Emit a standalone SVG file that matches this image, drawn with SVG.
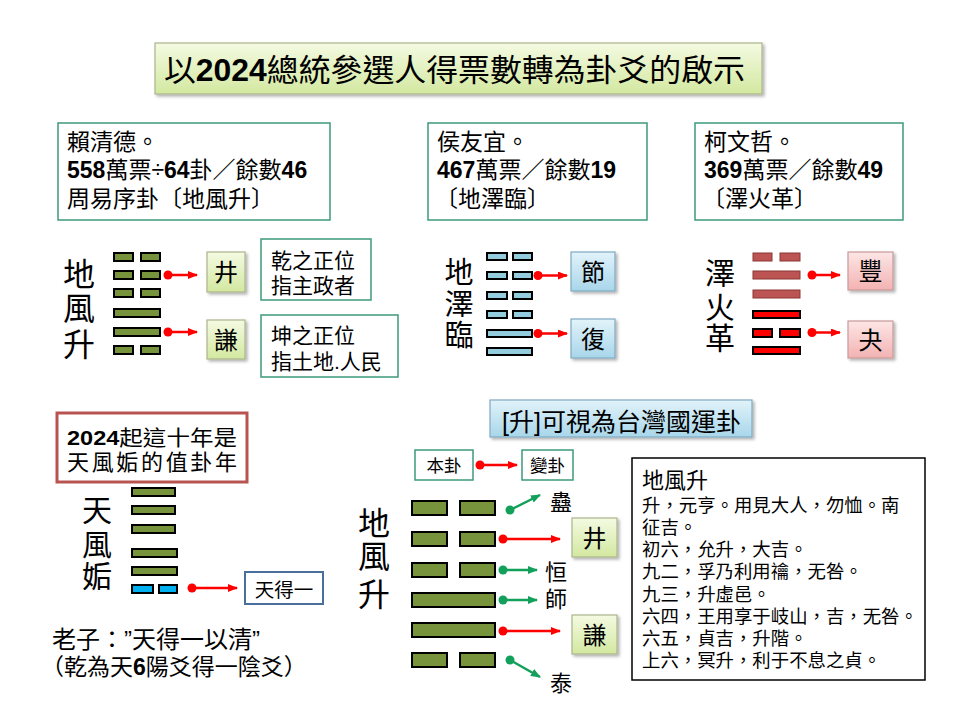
<svg xmlns="http://www.w3.org/2000/svg" width="960" height="720" viewBox="0 0 960 720">
<defs>
<style>
text{font-family:"Liberation Sans","Noto Sans CJK TC",sans-serif;fill:#000}
.b{font-weight:bold}
.tb{fill:#fff;stroke:#3d9a7a;stroke-width:1.5}
.ol{fill:#77933c;stroke:#000;stroke-width:2}
.bl{fill:#93cddd;stroke:#000;stroke-width:2}
.br{fill:#bb5452;stroke:#8a3735;stroke-width:1}
.rd{fill:#ff0000;stroke:#000;stroke-width:2}
.cy{fill:#00b0f0;stroke:#000;stroke-width:2}
.lime{fill:url(#gLime);stroke:#aab58c;stroke-width:1.2}
.sky{fill:url(#gSky);stroke:#7fa9c4;stroke-width:1.2}
.pink{fill:url(#gPink);stroke:#c99a9a;stroke-width:1.2}
.big{font-size:32px;text-anchor:middle}
.ar{stroke:#ff0000;stroke-width:2.5;fill:none;marker-start:url(#dotR);marker-end:url(#ahR)}
.ag{stroke:#12a05a;stroke-width:2.5;fill:none;marker-start:url(#dotG);marker-end:url(#ahG)}
</style>
<linearGradient id="gLime" x1="0" y1="0" x2="0" y2="1"><stop offset="0" stop-color="#f4fae2"/><stop offset="1" stop-color="#d3e8a0"/></linearGradient>
<linearGradient id="gSky" x1="0" y1="0" x2="0" y2="1"><stop offset="0" stop-color="#e2f3fa"/><stop offset="1" stop-color="#a8d6ea"/></linearGradient>
<linearGradient id="gPink" x1="0" y1="0" x2="0" y2="1"><stop offset="0" stop-color="#fde6e6"/><stop offset="1" stop-color="#f3b2b2"/></linearGradient>
<filter id="sh" x="-10%" y="-10%" width="130%" height="140%"><feDropShadow dx="2" dy="2" stdDeviation="1.5" flood-color="#000" flood-opacity="0.3"/></filter>
<marker id="ahR" markerWidth="10" markerHeight="8" refX="9" refY="4" orient="auto" markerUnits="userSpaceOnUse"><path d="M0,0 L10,4 L0,8 z" fill="#ff0000"/></marker>
<marker id="dotR" markerWidth="10" markerHeight="10" refX="5" refY="5" markerUnits="userSpaceOnUse"><circle cx="5" cy="5" r="4.5" fill="#ff0000"/></marker>
<marker id="ahG" markerWidth="10" markerHeight="8" refX="9" refY="4" orient="auto" markerUnits="userSpaceOnUse"><path d="M0,0 L10,4 L0,8 z" fill="#12a05a"/></marker>
<marker id="dotG" markerWidth="10" markerHeight="10" refX="5" refY="5" markerUnits="userSpaceOnUse"><circle cx="5" cy="5" r="4.5" fill="#12a05a"/></marker>
</defs>
<rect width="960" height="720" fill="#fff"/>

<g id="title">
<rect x="155" y="43" width="607" height="51" class="lime" filter="url(#sh)"/>
<text x="164" y="81" font-size="31" textLength="581" lengthAdjust="spacingAndGlyphs">以<tspan class="b">2024</tspan>總統參選人得票數轉為卦爻的啟示</text>
</g>

<g id="box-lai">
<rect x="58" y="123" width="272" height="97" class="tb"/>
<text x="67" y="150" font-size="23">賴清德。</text>
<text x="67" y="178" font-size="23"><tspan class="b">558</tspan>萬票÷<tspan class="b">64</tspan>卦／餘數<tspan class="b">46</tspan></text>
<text x="67" y="207" font-size="23">周易序卦〔地風升〕</text>
</g>
<g id="box-hou">
<rect x="428" y="123" width="219" height="97" class="tb"/>
<text x="437" y="150" font-size="23">侯友宜。</text>
<text x="437" y="178" font-size="23"><tspan class="b">467</tspan>萬票／餘數<tspan class="b">19</tspan></text>
<text x="435" y="207" font-size="23">〔地澤臨〕</text>
</g>
<g id="box-ko">
<rect x="695" y="123" width="208" height="97" class="tb"/>
<text x="704" y="150" font-size="23">柯文哲。</text>
<text x="704" y="178" font-size="23"><tspan class="b">369</tspan>萬票／餘數<tspan class="b">49</tspan></text>
<text x="702" y="207" font-size="23">〔澤火革〕</text>
</g>

<g id="hex-sheng-top">
<text x="79" y="286" class="big">地</text>
<text x="79" y="320" class="big">風</text>
<text x="79" y="356" class="big">升</text>
<rect x="114" y="253" width="19" height="8" class="ol"/><rect x="141" y="253" width="19" height="8" class="ol"/>
<rect x="114" y="271" width="19" height="8" class="ol"/><rect x="141" y="271" width="19" height="8" class="ol"/>
<rect x="114" y="289" width="19" height="8" class="ol"/><rect x="141" y="289" width="19" height="8" class="ol"/>
<rect x="114" y="309" width="46" height="8" class="ol"/>
<rect x="114" y="328" width="46" height="8" class="ol"/>
<rect x="114" y="346" width="19" height="8" class="ol"/><rect x="141" y="346" width="19" height="8" class="ol"/>
</g>
<g id="node-jing-top">
<rect x="207" y="252" width="38" height="40" class="lime" filter="url(#sh)"/>
<text x="226" y="281" font-size="24" text-anchor="middle">井</text>
</g>
<g id="node-qian-top">
<rect x="207" y="320" width="38" height="39" class="lime" filter="url(#sh)"/>
<text x="226" y="349" font-size="24" text-anchor="middle">謙</text>
</g>
<g id="note-qian">
<rect x="261" y="239" width="110" height="61" class="tb"/>
<text x="271" y="268" font-size="21">乾之正位</text>
<text x="271" y="293" font-size="21">指主政者</text>
</g>
<g id="note-kun">
<rect x="261" y="315" width="137" height="62" class="tb"/>
<text x="271" y="343" font-size="21">坤之正位</text>
<text x="271" y="369" font-size="21">指土地.人民</text>
</g>

<g id="hex-lin">
<text x="459" y="283" font-size="29" text-anchor="middle">地</text>
<text x="459" y="315" font-size="29" text-anchor="middle">澤</text>
<text x="459" y="346" font-size="29" text-anchor="middle">臨</text>
<rect x="487" y="253" width="20" height="7" class="bl"/><rect x="513" y="253" width="19" height="7" class="bl"/>
<rect x="487" y="272" width="20" height="7" class="bl"/><rect x="513" y="272" width="19" height="7" class="bl"/>
<rect x="487" y="292" width="20" height="7" class="bl"/><rect x="513" y="292" width="19" height="7" class="bl"/>
<rect x="487" y="311" width="20" height="7" class="bl"/><rect x="513" y="311" width="19" height="7" class="bl"/>
<rect x="487" y="330" width="45" height="7" class="bl"/>
<rect x="487" y="348" width="45" height="7" class="bl"/>
</g>
<g id="node-jie">
<rect x="571" y="252" width="44" height="39" class="sky" filter="url(#sh)"/>
<text x="593" y="281" font-size="24" text-anchor="middle">節</text>
</g>
<g id="node-fu">
<rect x="571" y="319" width="44" height="39" class="sky" filter="url(#sh)"/>
<text x="593" y="348" font-size="24" text-anchor="middle">復</text>
</g>

<g id="hex-ge">
<text x="720" y="284" font-size="30" text-anchor="middle">澤</text>
<text x="720" y="318" font-size="30" text-anchor="middle">火</text>
<text x="720" y="349" font-size="30" text-anchor="middle">革</text>
<rect x="753" y="253" width="19" height="8" class="br"/><rect x="780" y="253" width="20" height="8" class="br"/>
<rect x="753" y="271" width="47" height="8" class="br"/>
<rect x="753" y="290" width="47" height="8" class="br"/>
<rect x="753" y="311" width="47" height="7" class="rd"/>
<rect x="753" y="329" width="19" height="8" class="rd"/><rect x="780" y="329" width="20" height="8" class="rd"/>
<rect x="753" y="347" width="47" height="7" class="rd"/>
</g>
<g id="node-feng">
<rect x="848" y="252" width="45" height="38" class="pink" filter="url(#sh)"/>
<text x="870.5" y="280" font-size="24" text-anchor="middle">豐</text>
</g>
<g id="node-guai">
<rect x="848" y="321" width="45" height="37" class="pink" filter="url(#sh)"/>
<text x="870.5" y="349" font-size="24" text-anchor="middle">夬</text>
</g>

<g id="box-2024">
<rect x="57" y="413" width="190" height="69" fill="#fff" stroke="#b85450" stroke-width="3"/>
<text x="67" y="445" font-size="21" textLength="170" lengthAdjust="spacingAndGlyphs"><tspan class="b">2024</tspan>起這十年是</text>
<text x="67" y="470" font-size="22" textLength="170" lengthAdjust="spacing">天風姤的值卦年</text>
</g>
<g id="hex-gou">
<text x="97" y="521" font-size="30" text-anchor="middle">天</text>
<text x="97" y="555" font-size="30" text-anchor="middle">風</text>
<text x="97" y="587" font-size="30" text-anchor="middle">姤</text>
<rect x="132" y="488" width="43" height="8" class="ol"/>
<rect x="132" y="506" width="43" height="8" class="ol"/>
<rect x="132" y="525" width="43" height="8" class="ol"/>
<rect x="132" y="549" width="45" height="8" class="ol"/>
<rect x="132" y="567" width="45" height="8" class="ol"/>
<rect x="132" y="585" width="21" height="8" class="cy"/><rect x="159" y="585" width="18" height="8" class="cy"/>
</g>
<g id="node-tiandeyi">
<rect x="245" y="572" width="78" height="32" fill="#fff" stroke="#4a6f9c" stroke-width="2"/>
<text x="284" y="597" font-size="19.5" text-anchor="middle">天得一</text>
</g>
<g id="laozi">
<text x="52" y="648" font-size="24">老子：”天得一以清”</text>
<text x="41" y="675" font-size="23">（乾為天<tspan class="b">6</tspan>陽爻得一陰爻）</text>
</g>

<g id="banner">
<rect x="490" y="400" width="262" height="37" class="sky" filter="url(#sh)"/>
<text x="502" y="431" font-size="25">[升]可視為台灣國運卦</text>
</g>
<g id="node-bengua">
<rect x="415" y="450" width="58" height="30" class="tb"/>
<text x="444" y="472" font-size="17.5" text-anchor="middle">本卦</text>
</g>
<g id="node-biangua">
<rect x="522" y="450" width="51" height="30" class="tb"/>
<text x="547.5" y="472" font-size="17.5" text-anchor="middle">變卦</text>
</g>
<g id="hex-sheng-bottom">
<text x="374" y="535" class="big">地</text>
<text x="374" y="568" class="big">風</text>
<text x="374" y="606" class="big">升</text>
<rect x="412" y="501" width="35" height="14" class="ol"/><rect x="460" y="501" width="35" height="14" class="ol"/>
<rect x="412" y="532" width="35" height="14" class="ol"/><rect x="460" y="532" width="35" height="14" class="ol"/>
<rect x="412" y="563" width="35" height="14" class="ol"/><rect x="460" y="563" width="35" height="14" class="ol"/>
<rect x="412" y="593" width="83" height="14" class="ol"/>
<rect x="412" y="623" width="83" height="14" class="ol"/>
<rect x="412" y="653" width="35" height="14" class="ol"/><rect x="460" y="653" width="35" height="14" class="ol"/>
</g>
<g id="label-gu"><text x="561" y="510" font-size="22" text-anchor="middle">蠱</text></g>
<g id="node-jing-bottom">
<rect x="572" y="518" width="45" height="39" class="lime" filter="url(#sh)"/>
<text x="594.5" y="547" font-size="24" text-anchor="middle">井</text>
</g>
<g id="label-heng"><text x="556" y="580" font-size="22" text-anchor="middle">恒</text></g>
<g id="label-shi"><text x="556" y="607" font-size="22" text-anchor="middle">師</text></g>
<g id="node-qian-bottom">
<rect x="572" y="615" width="45" height="39" class="lime" filter="url(#sh)"/>
<text x="594.5" y="644" font-size="24" text-anchor="middle">謙</text>
</g>
<g id="label-tai"><text x="561" y="691" font-size="22" text-anchor="middle">泰</text></g>

<g id="text-sheng">
<rect x="632" y="458" width="293" height="222" fill="#fff" stroke="#000" stroke-width="1.5"/>
<text x="642" y="488" font-size="22">地風升</text>
<g font-size="18.4">
<text x="642" y="512">升，元亨。用見大人，勿恤。南</text>
<text x="642" y="534">征吉。</text>
<text x="642" y="556">初六，允升，大吉。</text>
<text x="642" y="578">九二，孚乃利用禴，无咎。</text>
<text x="642" y="601">九三，升虛邑。</text>
<text x="642" y="623">六四，王用享于岐山，吉，无咎。</text>
<text x="642" y="645">六五，貞吉，升階。</text>
<text x="642" y="667">上六，冥升，利于不息之貞。</text>
</g>
</g>

<g id="connectors">
<line x1="168" y1="275" x2="197" y2="275" class="ar"/>
<line x1="168" y1="332" x2="197" y2="332" class="ar"/>
<line x1="538" y1="275.5" x2="567" y2="275.5" class="ar"/>
<line x1="538" y1="333.5" x2="567" y2="333.5" class="ar"/>
<line x1="812" y1="275" x2="840" y2="275" class="ar"/>
<line x1="812" y1="332.5" x2="840" y2="332.5" class="ar"/>
<line x1="192" y1="588" x2="237" y2="588" class="ar"/>
<line x1="480" y1="465" x2="517" y2="465" class="ar"/>
<line x1="510" y1="510" x2="540" y2="495" class="ag"/>
<line x1="503" y1="539" x2="560" y2="539" class="ar"/>
<line x1="503" y1="570" x2="537" y2="570" class="ag"/>
<line x1="503" y1="600" x2="537" y2="600" class="ag"/>
<line x1="503" y1="631" x2="560" y2="631" class="ar"/>
<line x1="510" y1="660" x2="540" y2="677" class="ag"/>
</g>
</svg>
